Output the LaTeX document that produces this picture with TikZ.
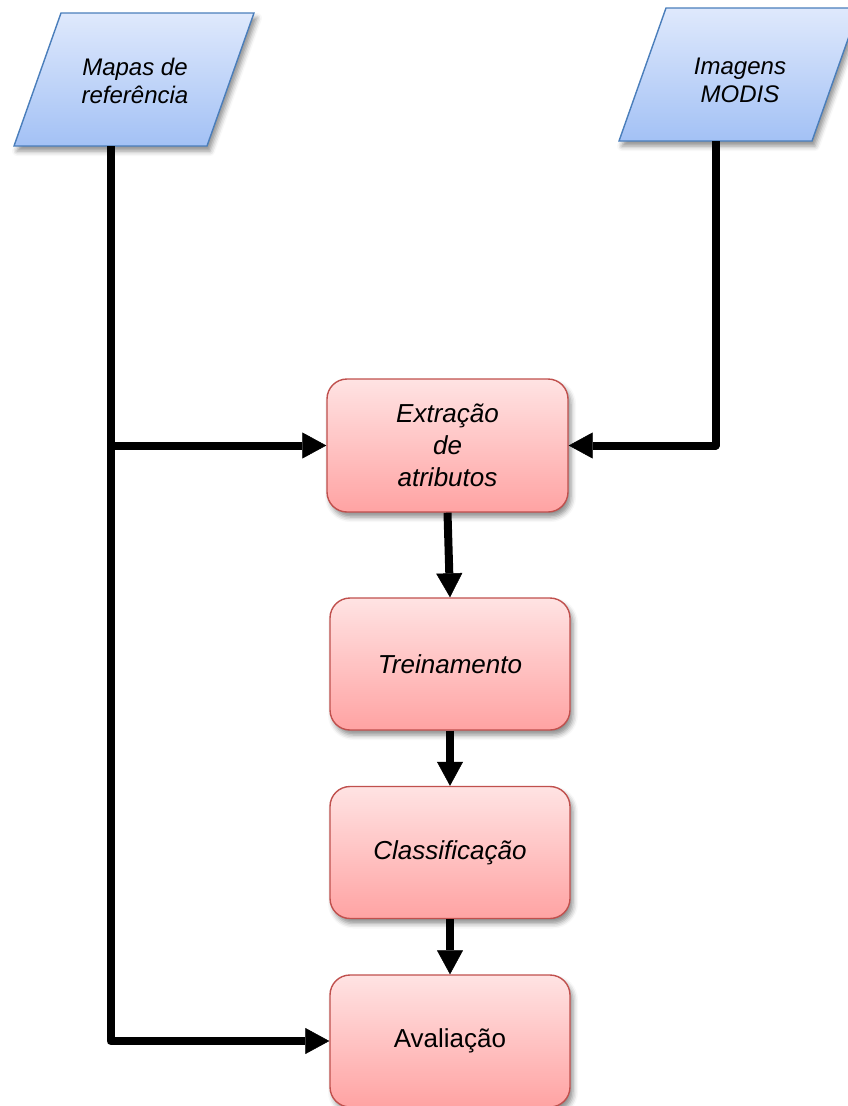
\documentclass[tikz,border=0pt]{standalone}
\usepackage{fontspec}
\setmainfont{Liberation Sans}
\usetikzlibrary{arrows.meta,shadows.blur}

\definecolor{bluetop}{HTML}{DFE9FC}
\definecolor{bluebot}{HTML}{A3C1F5}
\definecolor{blueline}{HTML}{4A7EBB}
\definecolor{redtop}{HTML}{FFE3E3}
\definecolor{redbot}{HTML}{FFA3A3}
\definecolor{redline}{HTML}{C0504D}

\begin{document}
\begin{tikzpicture}[x=1pt,y=-1pt,
  inshape/.style={draw=blueline, line width=1.4pt, top color=bluetop, bottom color=bluebot,
    blur shadow={shadow xshift=3pt, shadow yshift=-5pt, shadow blur radius=5pt, shadow opacity=45}},
  intext/.style={font=\itshape\fontsize{24}{28}\selectfont, align=center, inner sep=0pt},
  procbox/.style={rectangle, rounded corners=20pt, draw=redline, line width=1.4pt,
    top color=redtop, bottom color=redbot, minimum width=240pt, minimum height=132pt,
    blur shadow={shadow xshift=3pt, shadow yshift=-5pt, shadow blur radius=5pt, shadow opacity=45},
    font=\fontsize{26}{32}\selectfont, align=center, inner sep=0pt},
  conn/.style={line width=8pt, draw=black, -{Triangle[length=24pt,width=26pt,fill=black,line width=0.5pt]}, line join=round}
]
\clip (0,0) rectangle (848,1106);
\useasboundingbox (0,0) rectangle (848,1106);

% input parallelograms
\path[inshape] (14,146) -- (207,146) -- (254,13) -- (61,13) -- cycle;
\node[intext] (mapas) at (135,81) {Mapas de\\referência};
\coordinate (mapasout) at (110.5,146);

\path[inshape] (619,141) -- (812,141) -- (859,8) -- (666,8) -- cycle;
\node[intext] (modis) at (740,80) {Imagens\\MODIS};
\coordinate (modisout) at (715.5,141);

% process boxes
\node[procbox, font=\itshape\fontsize{26}{32}\selectfont, minimum width=241pt, minimum height=133pt] (ext) at (447.5,445.5) {Extração\\de\\atributos};
\node[procbox, font=\itshape\fontsize{26}{32}\selectfont] (trein) at (450,664) {Treinamento};
\node[procbox, font=\itshape\fontsize{26}{32}\selectfont] (clas) at (450,852.5) {Classificação};
\node[procbox] (aval) at (450,1041) {Avaliação};

\coordinate (lj) at (mapasout |- ext.west);

\draw[conn] (mapasout) |- (aval.west);
\draw[conn] (lj) -- (ext.west);
\draw[conn] (modisout) |- (ext.east);
\draw[conn] (ext.south) -- (trein.north);
\draw[conn] (trein.south) -- (clas.north);
\draw[conn] (clas.south) -- (aval.north);
\end{tikzpicture}
\end{document}
